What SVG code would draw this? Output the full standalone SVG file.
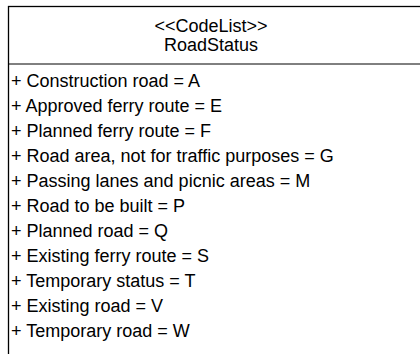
<svg xmlns="http://www.w3.org/2000/svg" width="420" height="354" viewBox="0 0 420 354">
<style>
text{font-family:"Liberation Sans",Arial,sans-serif;font-size:18px;fill:#000}
.t{text-anchor:middle}
.b{fill:#fff;stroke:#000;stroke-width:1.3}
</style>
<rect width="420" height="354" fill="#fff"/>
<g id="RoadStatus">
<rect class="b" x="8.5" y="6.5" width="430" height="360"/>
<line x1="8" y1="64" x2="430" y2="64" stroke="#000" stroke-width="1"/>
<text class="t" x="211" y="32">&lt;&lt;CodeList&gt;&gt;</text>
<text class="t" x="211" y="51">RoadStatus</text>
<text x="11" y="87">+ Construction road = A</text>
<text x="11" y="112">+ Approved ferry route = E</text>
<text x="11" y="137">+ Planned ferry route = F</text>
<text x="11" y="162">+ Road area, not for traffic purposes = G</text>
<text x="11" y="187">+ Passing lanes and picnic areas = M</text>
<text x="11" y="212">+ Road to be built = P</text>
<text x="11" y="237">+ Planned road = Q</text>
<text x="11" y="262">+ Existing ferry route = S</text>
<text x="11" y="287">+ Temporary status = T</text>
<text x="11" y="312">+ Existing road = V</text>
<text x="11" y="337">+ Temporary road = W</text>
</g>
</svg>
